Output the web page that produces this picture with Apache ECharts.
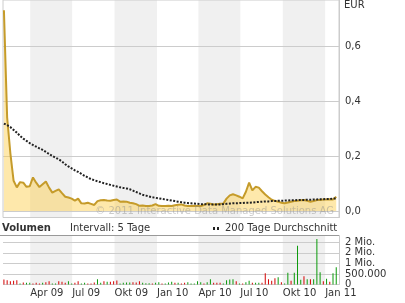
<!DOCTYPE html>
<html><head><meta charset="utf-8">
<script src="https://cdn.jsdelivr.net/npm/echarts@6/dist/echarts.min.js"></script>
<style>html,body{margin:0;padding:0;background:#fff}#c{width:405px;height:303px}</style>
</head><body><div id="c"></div>
<script>
// ---- data ----
const firstWeek = [2009, 1, 3];           // first weekly observation (3 Feb 2009)
const axisStart = [2009, 1, 1];
const axisEnd = [2011, 0, 31];
const price = [0.73,0.34,0.21,0.11,0.086,0.105,0.103,0.088,0.09,0.122,0.103,0.087,0.097,0.107,0.085,0.067,0.073,0.079,0.065,0.052,
0.049,0.045,0.038,0.045,0.028,0.027,0.030,0.026,0.022,0.036,0.039,0.040,0.038,0.037,0.040,0.042,0.034,0.035,0.034,0.030,
0.028,0.025,0.019,0.020,0.018,0.018,0.020,0.025,0.019,0.018,0.018,0.019,0.018,0.021,0.023,0.024,0.020,0.018,0.018,0.019,
0.018,0.018,0.022,0.028,0.026,0.024,0.025,0.026,0.027,0.045,0.057,0.061,0.057,0.052,0.046,0.070,0.103,0.075,0.088,0.085,
0.072,0.060,0.050,0.041,0.037,0.034,0.030,0.028,0.031,0.034,0.036,0.037,0.039,0.040,0.037,0.034,0.036,0.040,0.040,0.042,
0.042,0.043,0.042,0.052];
const ma200 = [0.318,0.312,0.305,0.295,0.285,0.273,0.263,0.255,0.247,0.240,0.234,0.228,0.222,0.215,0.207,0.200,0.194,0.188,0.180,0.170,
0.162,0.155,0.148,0.142,0.135,0.128,0.122,0.116,0.112,0.108,0.105,0.101,0.098,0.095,0.092,0.089,0.086,0.084,0.082,0.079,
0.074,0.069,0.064,0.059,0.056,0.053,0.050,0.048,0.046,0.044,0.042,0.040,0.038,0.036,0.034,0.032,0.030,0.029,0.028,0.027,
0.026,0.025,0.025,0.024,0.024,0.024,0.024,0.024,0.025,0.026,0.027,0.028,0.028,0.029,0.029,0.030,0.030,0.031,0.032,0.033,
0.034,0.035,0.035,0.036,0.036,0.037,0.037,0.038,0.038,0.039,0.039,0.040,0.040,0.040,0.041,0.041,0.042,0.042,0.043,0.043,
0.044,0.044,0.045,0.046];
const volume = [237,205,158,174,205,47,95,79,79,47,79,47,79,110,158,47,47,158,126,79,
158,47,79,158,47,79,47,47,95,253,79,158,126,126,158,190,47,79,95,95,
110,95,158,79,63,63,47,79,110,47,47,95,126,79,79,47,79,110,47,47,
158,110,47,110,253,79,79,79,47,205,237,253,158,47,47,110,174,79,79,79,
79,537,253,174,300,348,110,47,553,174,553,1833,221,395,253,253,253,2149,585,158,
269,126,537,822]; // thousand shares
const volDir = "ddddduduud" + "ddudduuddd" + "uudduudddu" + "ududdduuuu" + "ddduuuduud" +
               "uuududduuu" + "uuduuddduu" + "uududuuduu" + "ddddduduud" + "uuududuuud" + "uduu";
const quarterStarts = ['2009-04-01','2009-07-01','2009-10-01','2010-01-01','2010-04-01','2010-07-01','2010-10-01','2011-01-01'];
const grayQuarters = [['2009-04-01','2009-07-01'],['2009-10-01','2010-01-01'],['2010-04-01','2010-07-01'],['2010-10-01','2011-01-01']];
const monthNames = {0:'Jan',3:'Apr',6:'Jul',9:'Okt'};
const priceTicks = [0,0.2,0.4,0.6];
const volTicks = [0,500000,1000000,1500000,2000000];

// ---- build ----
const ts = s => { const p = s.split('-'); return new Date(+p[0], +p[1]-1, +p[2]).getTime(); };
const weeks = price.map((_, i) => new Date(firstWeek[0], firstWeek[1], firstWeek[2] + 7*i).getTime());
const xmin = new Date(...axisStart).getTime(), xmax = new Date(...axisEnd).getTime();
const font = 'DejaVu Sans';
const txt = '#333';
const bands = grayQuarters.map(q => [{xAxis: ts(q[0])}, {xAxis: ts(q[1])}]);
const qVals = quarterStarts.map(ts);
const fmtDate = v => { const d = new Date(v); return monthNames[d.getMonth()] + ' ' + String(d.getFullYear()).slice(2); };
const fmtVol = v => v === 0 ? '0' : (v === 500000 ? '500.000' : Math.round(v/1e6) + ' Mio.');
const dirs = volDir.split('');

const chart = echarts.init(document.getElementById('c'), null, {renderer: 'canvas'});
chart.setOption({
  animation: false,
  backgroundColor: '#fff',
  textStyle: {fontFamily: font},
  grid: [
    {left: 3, right: 66, top: -1, height: 218.5, show: true, borderColor: '#ccc', borderWidth: 1, backgroundColor: 'transparent'},
    {left: 3, right: 66, top: 235.5, height: 49}
  ],
  xAxis: [
    {type: 'value', gridIndex: 0, min: xmin, max: xmax, axisLine: {show: false}, axisTick: {show: false}, axisLabel: {show: false}, splitLine: {show: false}},
    {type: 'value', gridIndex: 1, min: xmin, max: xmax, axisLine: {show: false}, axisTick: {show: false, customValues: qVals}, splitLine: {show: false},
     axisLabel: {customValues: qVals, formatter: fmtDate, align: 'left', margin: 4, color: txt, fontSize: 10, fontFamily: font, hideOverlap: false, showMinLabel: true, showMaxLabel: true}}
  ],
  yAxis: [
    {type: 'value', gridIndex: 0, position: 'right', min: -0.0236, max: 0.7673,
     axisLine: {show: true, lineStyle: {color: '#ccc'}}, axisTick: {show: false, customValues: priceTicks},
     axisLabel: {customValues: priceTicks, formatter: v => v.toFixed(1).replace('.', ','), margin: 6, color: txt, fontSize: 10, fontFamily: font},
     splitLine: {show: true, lineStyle: {color: '#ccc', width: 1}}},
    {type: 'value', gridIndex: 1, position: 'right', min: 0, max: 2320000,
     axisLine: {show: true, lineStyle: {color: '#ccc'}}, axisTick: {show: false, customValues: volTicks},
     axisLabel: {customValues: volTicks, formatter: fmtVol, margin: 6, color: txt, fontSize: 10, fontFamily: font},
     splitLine: {show: true, lineStyle: {color: '#ccc', width: 1}}}
  ],
  series: [
    {type: 'line', xAxisIndex: 0, yAxisIndex: 0, z: 1, silent: true, data: weeks.map((t,i)=>[t, price[i]]), showSymbol: false, lineStyle: {opacity: 0},
     markArea: {silent: true, z: -1, itemStyle: {color: '#f0f0f0'}, data: bands}},
    {type: 'line', xAxisIndex: 1, yAxisIndex: 1, z: 1, silent: true, data: weeks.map((t,i)=>[t, 0]), showSymbol: false, lineStyle: {opacity: 0},
     markArea: {silent: true, z: -1, itemStyle: {color: '#f0f0f0'}, data: bands}},
    {name: 'Kurs', type: 'line', xAxisIndex: 0, yAxisIndex: 0, z: 3, data: weeks.map((t,i)=>[t, price[i]]), showSymbol: false,
     lineStyle: {color: '#c59b2a', width: 2}, areaStyle: {color: 'rgba(253,205,70,0.65)'}},
    {name: '200 Tage Durchschnitt', type: 'line', xAxisIndex: 0, yAxisIndex: 0, z: 4, data: weeks.map((t,i)=>[t, ma200[i]]), showSymbol: false,
     lineStyle: {color: '#222', width: 2, type: [2, 1.5]}},
    {name: 'Volumen', type: 'bar', xAxisIndex: 1, yAxisIndex: 1, z: 3, barWidth: 1,
     data: weeks.map((t,i)=>({value: [t, volume[i]*1000], itemStyle: {color: dirs[i] === 'u' ? '#0a9a0a' : '#d40000'}}))}
  ],
  graphic: [
    {type: 'text', left: 344, top: 0, style: {text: 'EUR', fill: txt, font: '10px "DejaVu Sans"'}},
    {type: 'text', z: 50, x: 334, y: 211, style: {text: '© 2011 Interactive Data Managed Solutions AG', fill: 'rgba(140,140,140,0.45)', font: '10px "DejaVu Sans"', align: 'right', verticalAlign: 'middle'}},
    {type: 'text', x: 2, y: 228.5, style: {text: 'Volumen', fill: txt, font: 'bold 10px "DejaVu Sans"', verticalAlign: 'middle'}},
    {type: 'text', x: 70, y: 228.5, style: {text: 'Intervall: 5 Tage', fill: txt, font: '10px "DejaVu Sans"', verticalAlign: 'middle'}},
    {type: 'rect', shape: {x: 213, y: 227, width: 2, height: 3}, style: {fill: '#222'}},
    {type: 'rect', shape: {x: 217, y: 227, width: 2, height: 3}, style: {fill: '#222'}},
    {type: 'text', x: 225, y: 228.5, style: {text: '200 Tage Durchschnitt', fill: txt, font: '10px "DejaVu Sans"', verticalAlign: 'middle'}},
    {type: 'line', z: 40, shape: {x1: 0, y1: 235.5, x2: 339, y2: 235.5}, style: {stroke: '#999', lineWidth: 1}}
  ]
});
</script></body></html>
